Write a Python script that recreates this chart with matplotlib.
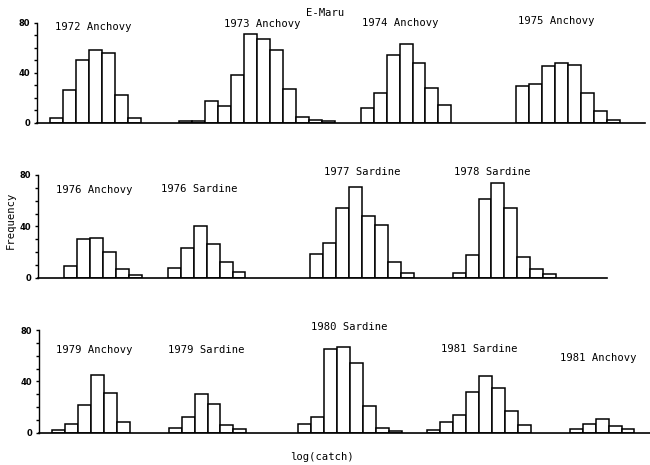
import matplotlib.pyplot as plt
from matplotlib.ticker import MultipleLocator

# Histogram data: log(catch) frequency per year/species, one list per panel row
row1_labels = ["1972 Anchovy", "1973 Anchovy", "1974 Anchovy", "1975 Anchovy"]
row1_starts = [1, 11, 25, 37]
row1_counts = [
    [3.5, 26, 50, 58, 56, 22, 3.5],
    [1.5, 1.5, 17, 13, 38, 71, 67, 58, 27, 4.5, 2.5, 1],
    [12, 24, 54, 63, 48, 28, 14],
    [29, 31, 45, 48, 46, 24, 9, 2],
]

row2_labels = ["1976 Anchovy", "1976 Sardine", "1977 Sardine", "1978 Sardine"]
row2_starts = [2, 10, 21, 32]
row2_counts = [
    [9.5, 30, 31, 20, 6.5, 2],
    [7.5, 23, 40.5, 26, 12, 4.5],
    [18.5, 27, 54, 71, 48, 41, 12.5, 3.5],
    [3.5, 17.5, 61, 74, 54, 16, 6.5, 2.5],
]

row3_labels = ["1979 Anchovy", "1979 Sardine", "1980 Sardine", "1981 Sardine", "1981 Anchovy"]
row3_starts = [1, 10, 20, 30, 41]
row3_counts = [
    [2, 6.5, 21.5, 45, 31, 8.5],
    [4, 12, 30, 22, 6, 3],
    [6.5, 12, 65, 67, 54, 21, 3.5, 1.5],
    [2, 8.5, 13.5, 31.5, 44.5, 35, 17, 6],
    [2.5, 7, 11, 5, 3],
]

y_ticks = [0, 40, 80]

W, H = 650, 465
mono = "DejaVu Sans Mono"

fig = plt.figure(figsize=(6.5, 4.65), dpi=100)


def px_rect(x0, y_base, x1, y_top):
    # convert pixel box to figure fraction rect
    return [x0 / W, 1 - y_base / H, (x1 - x0) / W, (y_base - y_top) / H]


def draw_row(rect, xmax, starts, counts):
    ax = fig.add_axes(rect)
    for s, c in zip(starts, counts):
        xs = [s + i for i in range(len(c))]
        ax.bar(xs, c, width=1, align="edge", facecolor="white",
               edgecolor="black", linewidth=1.1)
    ax.set_xlim(0, xmax)
    ax.set_ylim(0, 80)
    for side in ["top", "right"]:
        ax.spines[side].set_visible(False)
    ax.spines["left"].set_linewidth(1.0)
    ax.spines["bottom"].set_linewidth(1.2)
    ax.set_xticks([])
    ax.set_yticks(y_ticks)
    ax.set_yticklabels([str(t) for t in y_ticks], fontsize=6, fontweight="bold")
    ax.yaxis.set_minor_locator(MultipleLocator(10))
    ax.tick_params(axis="y", which="both", direction="out", length=2, width=1, pad=3)
    return ax


draw_row(px_rect(37, 122.7, 645, 22.7), 46.95, row1_starts, row1_counts)
draw_row(px_rect(38.3, 277.7, 606.7, 175), 43.9, row2_starts, row2_counts)
draw_row(px_rect(39.3, 432.7, 650, 330), 47.2, row3_starts, row3_counts)

# group label positions (pixel centres)
label_pos = [
    (93, 27), (262, 24), (400, 23), (556, 21),
    (94, 190), (199, 189), (362, 172), (492, 172),
    (94, 350), (206, 350), (349, 327), (479, 349), (598, 358),
]
all_labels = row1_labels + row2_labels + row3_labels
for lab, (px, py) in zip(all_labels, label_pos):
    fig.text(px / W, 1 - py / H, lab, ha="center", va="center",
             family=mono, fontsize=7.6)

fig.text(325 / W, 1 - 13 / H, "E-Maru", ha="center", va="center",
         family=mono, fontsize=7.6)
fig.text(11 / W, 1 - 220 / H, "Frequency", ha="center", va="center",
         rotation=90, family=mono, fontsize=7.6)
fig.text(322 / W, 1 - 457 / H, "log(catch)", ha="center", va="center",
         family=mono, fontsize=7.6)

fig.savefig("out.png", dpi=100)
